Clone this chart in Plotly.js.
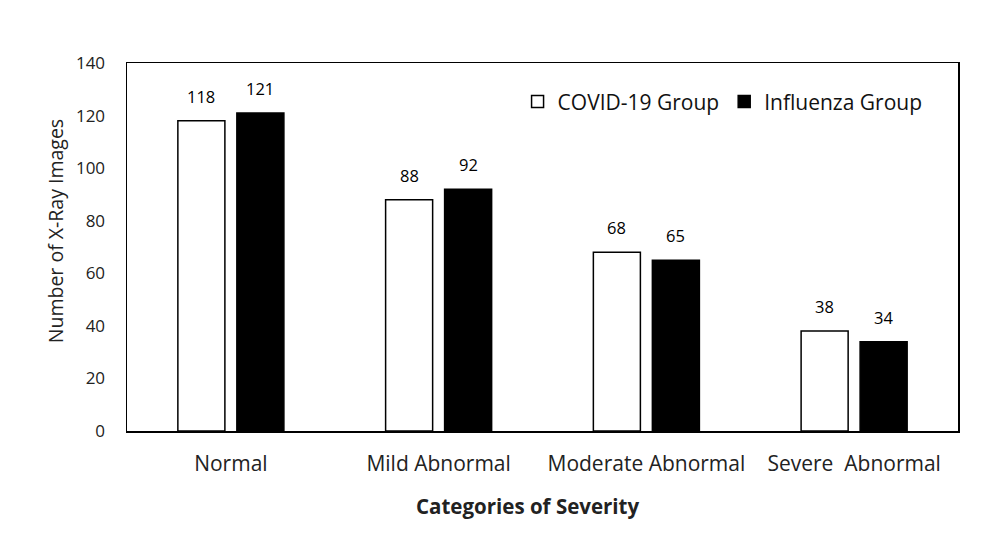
<!DOCTYPE html>
<html>
<head>
<meta charset="utf-8">
<script src="https://cdn.plot.ly/plotly-3.0.1.min.js"></script>
<style>html,body{margin:0;padding:0;background:#fff;}#chart{width:986px;height:547px;}</style>
</head>
<body>
<div id="chart"></div>
<script>
const categories = ["Normal", "Mild Abnormal", "Moderate Abnormal", "Severe\u00a0\u00a0Abnormal"];
const covidValues = [118, 88, 68, 38];
const influenzaValues = [121, 92, 65, 34];
const seriesNames = ["COVID-19 Group", "Influenza Group"];
const yTicks = [0, 20, 40, 60, 80, 100, 120, 140];
const xTitle = "Categories of Severity";
const yTitle = "Number of X-Ray Images";

const font = "Open Sans, Noto Sans, sans-serif";

const traces = [
  {
    type: "bar", name: seriesNames[0], x: categories, y: covidValues,
    marker: {color: "#ffffff", line: {color: "#000000", width: 1.5}}
  },
  {
    type: "bar", name: seriesNames[1], x: categories, y: influenzaValues,
    marker: {color: "#000000", line: {color: "#000000", width: 1.5}}
  }
];

const annotations = [];
[[covidValues, -29.5], [influenzaValues, 29.5]].forEach(([vals, dx]) => {
  vals.forEach((v, i) => {
    annotations.push({
      x: categories[i], y: v, xref: "x", yref: "y", text: String(v),
      showarrow: false, xshift: dx, yshift: 11, yanchor: "bottom",
      font: {family: font, size: 16.5, color: "#000"}
    });
  });
});
// axis titles (offset like the original)
annotations.push({
  xref: "paper", yref: "paper", x: 0.482, y: 0, xanchor: "center", yanchor: "middle",
  yshift: -75, showarrow: false, text: "<b>" + xTitle + "</b>",
  font: {family: font, size: 20.5, color: "#222"}
});
annotations.push({
  xref: "paper", yref: "paper", x: -0.0866, y: 0.543, xanchor: "center", yanchor: "middle",
  textangle: -90, showarrow: false, text: yTitle,
  font: {family: font, size: 19.5, color: "#222"}
});

const layout = {
  width: 986, height: 547,
  margin: {l: 127, r: 28, t: 63, b: 116},
  paper_bgcolor: "#fff", plot_bgcolor: "#fff",
  font: {family: font, color: "#000"},
  barmode: "group", bargap: 0.432, bargroupgap: 0.203,
  showlegend: true,
  annotations: annotations,
  legend: {
    orientation: "h", x: 0.47, xanchor: "left", y: 0.95, yanchor: "top",
    font: {family: font, size: 21, color: "#111"}, bgcolor: "rgba(0,0,0,0)",
    itemwidth: 30
  },
  xaxis: {
    type: "category", showline: true, mirror: true, linecolor: "#000", linewidth: 1.5,
    showgrid: false, ticks: "", ticklabelstandoff: 13,
    tickfont: {family: font, size: 21, color: "#222"}
  },
  yaxis: {
    range: [0, 140], tickvals: yTicks, ticktext: yTicks.map(String),
    showline: true, mirror: true, linecolor: "#000", linewidth: 1.5,
    showgrid: false, zeroline: false, ticks: "", ticklabelstandoff: 17,
    tickfont: {family: font, size: 17, color: "#222"}
  }
};

Plotly.newPlot("chart", traces, layout, {displayModeBar: false, staticPlot: true});
</script>
</body>
</html>
